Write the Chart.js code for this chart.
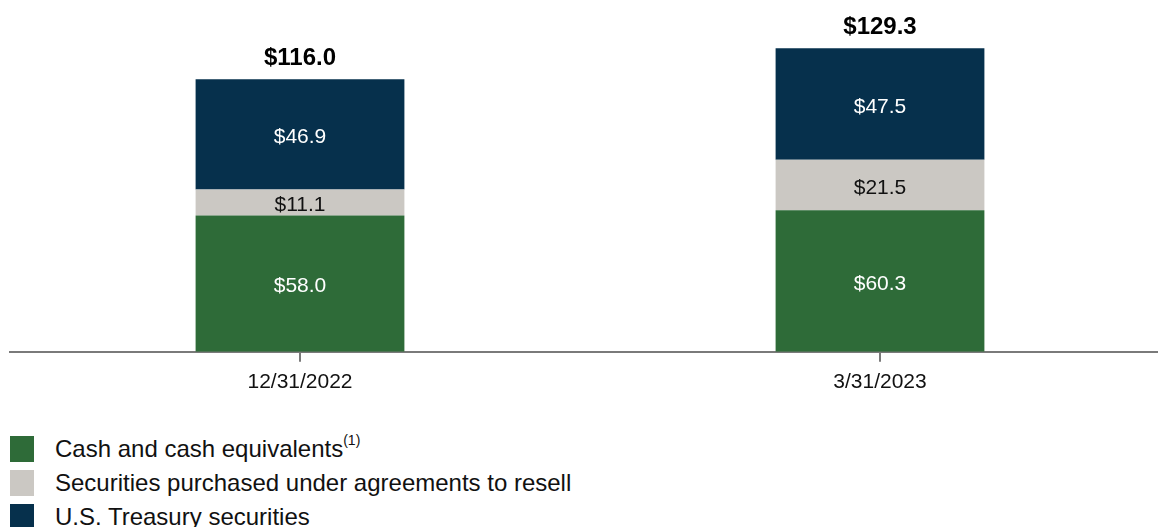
<!DOCTYPE html>
<html>
<head>
<meta charset="utf-8">
<script src="https://cdn.jsdelivr.net/npm/chart.js@4.4.0/dist/chart.umd.min.js"></script>
<style>
  html, body { margin: 0; padding: 0; background: #fff; overflow: hidden; }
  body { width: 1158px; height: 527px; position: relative; font-family: "Liberation Sans", Arial, sans-serif; }
  #wrap { position: absolute; left: 0; top: 0; width: 1170px; height: 403px; }
  .legend { position: absolute; left: 10px; top: 432px; font-size: 24px; color: #111; }
  .legend-row { display: flex; align-items: center; height: 34px; }
  .legend-box { width: 24px; height: 26px; margin-right: 21px; flex: none; }
  .legend sup { font-size: 14px; position: relative; top: -3px; vertical-align: super; line-height: 0; }
</style>
</head>
<body>
<div id="wrap"><canvas id="liquidity"></canvas></div>
<div class="legend" id="legend"></div>
<script>
// --- Dữ liệu ---
const categories = ["12/31/2022", "3/31/2023"];
const cashValues = [58.0, 60.3];
const resaleValues = [11.1, 21.5];
const treasuryValues = [46.9, 47.5];
const totals = [116.0, 129.3];

const seriesNames = ["Cash and cash equivalents", "Securities purchased under agreements to resell", "U.S. Treasury securities"];
const seriesColors = ["#2e6b38", "#cbc8c3", "#06304c"];
const labelColors = ["#ffffff", "#111111", "#ffffff"];

const fmtMoney = (v) => "$" + v.toFixed(1);

// Nhãn giá trị trong cột + tổng trên đỉnh
const barLabels = {
  id: "barLabels",
  afterDatasetsDraw(chart) {
    const { ctx } = chart;
    ctx.save();
    ctx.textAlign = "center";
    ctx.textBaseline = "middle";
    ctx.font = "21px 'Liberation Sans', Arial, sans-serif";
    chart.data.datasets.forEach((ds, i) => {
      chart.getDatasetMeta(i).data.forEach((bar, j) => {
        const mid = (bar.y + bar.base) / 2;
        ctx.fillStyle = labelColors[i];
        ctx.fillText(fmtMoney(ds.data[j]), bar.x, mid + 3);
      });
    });
    const y = chart.scales.y;
    ctx.font = "bold 24px 'Liberation Sans', Arial, sans-serif";
    ctx.fillStyle = "#000";
    totals.forEach((t, j) => {
      const x = chart.getDatasetMeta(0).data[j].x;
      ctx.fillText(fmtMoney(t), x, y.getPixelForValue(t) - 21);
    });
    ctx.restore();
  }
};

new Chart(document.getElementById("liquidity"), {
  type: "bar",
  data: {
    labels: categories,
    datasets: [
      { label: seriesNames[0], data: cashValues, backgroundColor: seriesColors[0] },
      { label: seriesNames[1], data: resaleValues, backgroundColor: seriesColors[1] },
      { label: seriesNames[2], data: treasuryValues, backgroundColor: seriesColors[2] }
    ]
  },
  options: {
    responsive: true, maintainAspectRatio: false, animation: false,
    categoryPercentage: 1, barPercentage: 0.36,
    layout: { padding: { left: 10, right: 0, top: 23, bottom: 0 } },
    plugins: { legend: { display: false }, tooltip: { enabled: false } },
    scales: {
      x: {
        stacked: true,
        border: { display: true, color: "#7a7a7a", width: 2 },
        grid: { display: true, drawOnChartArea: false, drawTicks: true, tickLength: 10, color: "#7a7a7a", lineWidth: 2, offset: false },
        ticks: { color: "#111", font: { size: 21, family: "'Liberation Sans', Arial, sans-serif" }, padding: 8 }
      },
      y: { stacked: true, display: false, min: 0, max: 140 }
    }
  },
  plugins: [barLabels]
});

// Chú thích dạng danh sách dọc
document.getElementById("legend").innerHTML = seriesNames.map((n, i) => `
  <div class="legend-row">
    <span class="legend-box" style="background:${seriesColors[i]}"></span>
    <span>${n}${i === 0 ? "<sup>(1)</sup>" : ""}</span>
  </div>`).join("");
</script>
</body>
</html>
